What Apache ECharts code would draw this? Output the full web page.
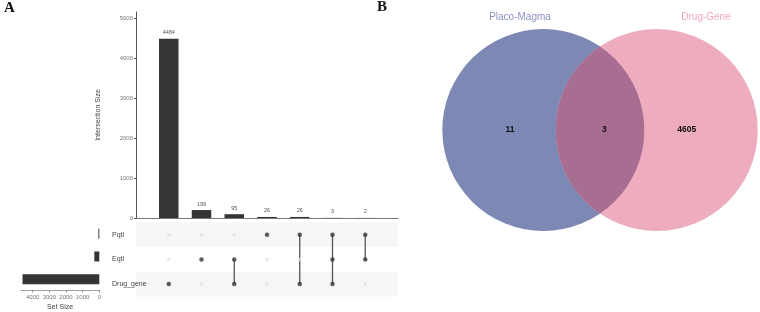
<!DOCTYPE html>
<html>
<head>
<meta charset="utf-8">
<script src="https://cdn.jsdelivr.net/npm/echarts@6/dist/echarts.min.js"></script>
<style>
  html, body { margin: 0; padding: 0; background: #fff; }
  #chart { width: 760px; height: 312px; }
</style>
</head>
<body>
<div id="chart"></div>
<script>
// ---- data ----
var setNames = ['Drug_gene', 'Eqtl', 'Pqtl'];          // bottom -> top
var setSizes = [4608, 299, 57];
var intersectionSizes = [4484, 199, 95, 26, 26, 3, 2];
var intersectionSets = [
    ['Drug_gene'],
    ['Eqtl'],
    ['Eqtl', 'Drug_gene'],
    ['Pqtl'],
    ['Pqtl', 'Drug_gene'],
    ['Pqtl', 'Eqtl', 'Drug_gene'],
    ['Pqtl', 'Eqtl']
];
var vennNames = ['Placo-Magma', 'Drug-Gene'];
var vennCounts = [11, 3, 4605];   // left only, both, right only

// ---- build series data ----
var barData = intersectionSizes.map(function (v, i) { return [i + 1, v]; });
var dotsOff = [], dotsOn = [], links = [];
intersectionSets.forEach(function (sets, i) {
    var rows = [];
    setNames.forEach(function (name, r) {
        if (sets.indexOf(name) >= 0) { dotsOn.push([i + 1, r]); rows.push(r); }
        else dotsOff.push([i + 1, r]);
    });
    if (rows.length > 1) links.push([i + 1, Math.min.apply(null, rows), Math.max.apply(null, rows)]);
});
var setBarData = setSizes.map(function (v, r) { return [v, r]; });

// venn geometry in px-like units of its own grid (grid is 380 x 260)
var vennR = 101;
var vennCircles = [[163.3, 130, vennR], [276.7, 130, vennR]];
var vennFill = ['#7d88b4', '#edadbf'];
var vennOverlap = '#a86e92';
var vennTextColor = ['#8a90c4', '#f0a6bf'];

var plain = function (v) { return String(v); };
var small = { fontSize: 6, color: '#777', fontFamily: 'Liberation Sans', formatter: plain };

var chart = echarts.init(document.getElementById('chart'));
chart.setOption({
    animation: false,
    graphic: [
        { type: 'text', left: 4, top: 1, style: { text: 'A', font: 'bold 15px "Liberation Serif"', fill: '#111' } },
        { type: 'text', left: 377, top: 0, style: { text: 'B', font: 'bold 15px "Liberation Serif"', fill: '#111' } }
    ],
    grid: [
        { left: 136, right: 362, top: 12, bottom: 94 },        // intersection bars
        { left: 136, right: 362, top: 222.4, bottom: 15.6 },   // matrix
        { left: 21, right: 660.7, top: 222.4, bottom: 15.6 },  // set size
        { left: 380, width: 380, top: 0, height: 260 }          // venn
    ],
    xAxis: [
        { gridIndex: 0, type: 'value', min: 0, max: 8, axisLabel: { show: false }, axisTick: { show: false },
          splitLine: { show: false }, axisLine: { show: true, lineStyle: { color: '#777', width: 1 } } },
        { gridIndex: 1, type: 'value', min: 0, max: 8, show: false },
        { gridIndex: 2, type: 'value', min: 0, max: 4700, interval: 1000, inverse: true,
          axisLine: { show: true, lineStyle: { color: '#888', width: 0.8 } },
          axisTick: { show: true, length: 2, lineStyle: { color: '#888' } },
          axisLabel: Object.assign({ margin: 4 }, small),
          splitLine: { show: false },
          name: 'Set Size', nameLocation: 'middle', nameGap: 13.5,
          nameTextStyle: { fontSize: 7, color: '#444', fontFamily: 'Liberation Sans' } },
        { gridIndex: 3, type: 'value', min: 0, max: 380, show: false }
    ],
    yAxis: [
        { gridIndex: 0, type: 'value', min: 0, max: 5150, interval: 1000,
          axisLine: { show: true, lineStyle: { color: '#555', width: 1 } },
          axisTick: { show: true, length: 2, lineStyle: { color: '#555' } },
          axisLabel: Object.assign({ margin: 3, showMaxLabel: false }, small),
          splitLine: { show: false },
          name: 'Intersection Size', nameLocation: 'middle', nameGap: 34, nameRotate: 90,
          nameTextStyle: { fontSize: 7, color: '#444', fontFamily: 'Liberation Sans' } },
        { gridIndex: 1, type: 'category', data: setNames,
          axisLine: { show: false }, axisTick: { show: false },
          axisLabel: { align: 'left', margin: 24, fontSize: 7, color: '#444', fontFamily: 'Liberation Sans' },
          splitArea: { show: true, areaStyle: { color: ['#f6f6f6', '#ffffff'] } } },
        { gridIndex: 2, type: 'category', data: setNames, show: false },
        { gridIndex: 3, type: 'value', min: 0, max: 260, inverse: true, show: false }
    ],
    series: [
        { type: 'bar', xAxisIndex: 0, yAxisIndex: 0, data: barData, barWidth: 19.5,
          itemStyle: { color: '#353535' },
          label: { show: true, position: 'top', distance: 3, fontSize: 5.5, color: '#555', fontFamily: 'Liberation Sans',
                   formatter: function (p) { return String(p.value[1]); } } },
        { type: 'scatter', xAxisIndex: 1, yAxisIndex: 1, data: dotsOff, symbolSize: 3.5,
          itemStyle: { color: '#e2e2e2' } },
        { type: 'custom', xAxisIndex: 1, yAxisIndex: 1, data: links,
          renderItem: function (params, api) {
              var a = api.coord([api.value(0), api.value(1)]);
              var b = api.coord([api.value(0), api.value(2)]);
              return { type: 'line', shape: { x1: a[0], y1: a[1], x2: b[0], y2: b[1] },
                       style: { stroke: '#555', lineWidth: 1.3 } };
          } },
        { type: 'scatter', xAxisIndex: 1, yAxisIndex: 1, data: dotsOn, symbolSize: 4.5,
          itemStyle: { color: '#333' }, z: 5 },
        { type: 'bar', xAxisIndex: 2, yAxisIndex: 2, data: setBarData, barWidth: 10,
          itemStyle: { color: '#353535' } },
        // venn circles
        { type: 'custom', xAxisIndex: 3, yAxisIndex: 3, data: vennCircles,
          renderItem: function (params, api) {
              var c = api.coord([api.value(0), api.value(1)]);
              var r = api.size([api.value(2), 0])[0];
              return { type: 'circle', shape: { cx: c[0], cy: c[1], r: r },
                       style: { fill: vennFill[params.dataIndex] } };
          } },
        // overlap lens
        { type: 'custom', xAxisIndex: 3, yAxisIndex: 3, data: [0], z: 3,
          renderItem: function (params, api) {
              var p1 = api.coord([vennCircles[0][0], vennCircles[0][1]]);
              var p2 = api.coord([vennCircles[1][0], vennCircles[1][1]]);
              var r = api.size([vennR, 0])[0];
              var d = p2[0] - p1[0];
              var mx = (p1[0] + p2[0]) / 2;
              var h = Math.sqrt(r * r - (d / 2) * (d / 2));
              var top = [mx, p1[1] - h], bot = [mx, p1[1] + h];
              var path = 'M' + top[0] + ' ' + top[1] +
                  ' A' + r + ' ' + r + ' 0 0 1 ' + bot[0] + ' ' + bot[1] +
                  ' A' + r + ' ' + r + ' 0 0 1 ' + top[0] + ' ' + top[1] + ' Z';
              return { type: 'path', shape: { pathData: path }, style: { fill: vennOverlap } };
          } },
        // venn labels
        { type: 'custom', xAxisIndex: 3, yAxisIndex: 3, z: 4,
          data: [[140, 17, 0], [326, 17, 1], [130, 130, 2], [224.3, 130, 3], [306.7, 130, 4]],
          renderItem: function (params, api) {
              var c = api.coord([api.value(0), api.value(1)]);
              var k = api.value(2);
              if (k < 2) {
                  return { type: 'text', x: c[0], y: c[1],
                           style: { text: vennNames[k], fill: vennTextColor[k], align: 'center', verticalAlign: 'middle',
                                    font: '10px "Liberation Sans"' } };
              }
              return { type: 'text', x: c[0], y: c[1],
                       style: { text: String(vennCounts[k - 2]), fill: '#111', align: 'center', verticalAlign: 'middle',
                                font: 'bold 8.5px "Liberation Sans"' } };
          } }
    ]
});
</script>
</body>
</html>
